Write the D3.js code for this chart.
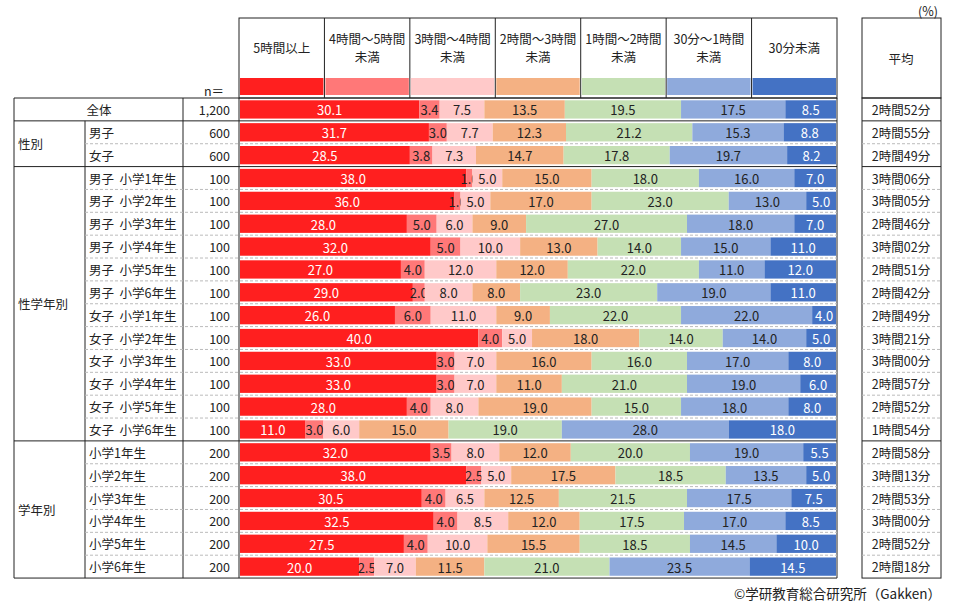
<!DOCTYPE html>
<html><head><meta charset="utf-8">
<script src="https://cdn.jsdelivr.net/npm/d3@7"></script>
<style>body{margin:0;background:#fff;font-family:"Noto Sans CJK JP","Noto Sans",sans-serif;}</style>
</head><body><svg id="c" width="967" height="611"></svg>
<script>
var categories = ['5時間以上','4時間～5時間|未満','3時間～4時間|未満','2時間～3時間|未満','1時間～2時間|未満','30分～1時間|未満','30分未満'];
var colors = ['#FF1F1F','#FF7878','#FFC9C9','#F4B183','#C5E0B4','#8FAADC','#4472C4'];
var groups = [['全体',1],['性別',2],['性学年別',12],['学年別',6]];
var rowLabels = ['全体','男子','女子','男子  小学1年生','男子  小学2年生','男子  小学3年生','男子  小学4年生','男子  小学5年生','男子  小学6年生','女子  小学1年生','女子  小学2年生','女子  小学3年生','女子  小学4年生','女子  小学5年生','女子  小学6年生','小学1年生','小学2年生','小学3年生','小学4年生','小学5年生','小学6年生'];
var nValues = ['1,200','600','600','100','100','100','100','100','100','100','100','100','100','100','100','200','200','200','200','200','200'];
var values = [
 [30.1,3.4,7.5,13.5,19.5,17.5,8.5],
 [31.7,3.0,7.7,12.3,21.2,15.3,8.8],
 [28.5,3.8,7.3,14.7,17.8,19.7,8.2],
 [38.0,1.0,5.0,15.0,18.0,16.0,7.0],
 [36.0,1.0,5.0,17.0,23.0,13.0,5.0],
 [28.0,5.0,6.0,9.0,27.0,18.0,7.0],
 [32.0,5.0,10.0,13.0,14.0,15.0,11.0],
 [27.0,4.0,12.0,12.0,22.0,11.0,12.0],
 [29.0,2.0,8.0,8.0,23.0,19.0,11.0],
 [26.0,6.0,11.0,9.0,22.0,22.0,4.0],
 [40.0,4.0,5.0,18.0,14.0,14.0,5.0],
 [33.0,3.0,7.0,16.0,16.0,17.0,8.0],
 [33.0,3.0,7.0,11.0,21.0,19.0,6.0],
 [28.0,4.0,8.0,19.0,15.0,18.0,8.0],
 [11.0,3.0,6.0,15.0,19.0,28.0,18.0],
 [32.0,3.5,8.0,12.0,20.0,19.0,5.5],
 [38.0,2.5,5.0,17.5,18.5,13.5,5.0],
 [30.5,4.0,6.5,12.5,21.5,17.5,7.5],
 [32.5,4.0,8.5,12.0,17.5,17.0,8.5],
 [27.5,4.0,10.0,15.5,18.5,14.5,10.0],
 [20.0,2.5,7.0,11.5,21.0,23.5,14.5]];
var averages = ['2時間52分','2時間55分','2時間49分','3時間06分','3時間05分','2時間46分','3時間02分','2時間51分','2時間42分','2時間49分','3時間21分','3時間00分','2時間57分','2時間52分','1時間54分','2時間58分','3時間13分','2時間53分','3時間00分','2時間52分','2時間18分'];

var svg = d3.select('#c');
var x0=239, x1=837, topY=98, rowH=22.86;
var x = d3.scaleLinear().domain([0,100]).range([x0+1,x1-1]);
var y = d3.scaleBand().domain(d3.range(rowLabels.length)).range([topY, topY+rowH*rowLabels.length]).paddingInner(0.2).paddingOuter(0.1);
var ln = '#222';
function line(a,b,c,d,dash){svg.append('line').attr('x1',a).attr('y1',b).attr('x2',c).attr('y2',d).attr('stroke',dash?'#bbb':ln).attr('stroke-width',1).attr('stroke-dasharray',dash?'3,2':null);}
function txt(s,xx,yy,anchor,fill){return svg.append('text').attr('x',xx).attr('y',yy).attr('text-anchor',anchor||'middle').attr('dominant-baseline','central').attr('font-size',12.5).attr('fill',fill||'#222').text(s);}

// header
var cw=(x1-x0)/7;
svg.append('rect').attr('x',x0).attr('y',18).attr('width',x1-x0).attr('height',80).attr('fill','none').attr('stroke',ln);
categories.forEach(function(c,i){
  var cx=x0+cw*i;
  if(i>0) line(cx,18,cx,98);
  var parts=c.split('|');
  parts.forEach(function(p,j){txt(p,cx+cw/2,parts.length==1?47:38+j*18);});
  svg.append('rect').attr('x',cx+1).attr('y',78).attr('width',cw-2).attr('height',17).attr('fill',colors[i]);
});
txt('n＝',214,90);
txt('(%)',928,10);
svg.append('rect').attr('x',862).attr('y',18).attr('width',79).attr('height',80).attr('fill','none').attr('stroke',ln);
txt('平均',901,58);

// table structure
var bottom=topY+rowH*rowLabels.length;
line(14,topY,x1,topY); line(14,bottom,x1,bottom);
line(14,topY,14,bottom); line(183,topY,183,bottom); line(239,topY,239,bottom); line(x1,topY,x1,bottom);
svg.append('rect').attr('x',862).attr('y',topY).attr('width',79).attr('height',bottom-topY).attr('fill','none').attr('stroke',ln);
var r=0;
groups.forEach(function(g,gi){
  var yT=topY+r*rowH, yB=topY+(r+g[1])*rowH;
  if(gi>0){line(14,yT,x1,yT); line(862,yT,941,yT);}
  if(g[1]==1){txt(g[0],99,(yT+yB)/2);}
  else{
    line(85,yT,85,yB);
    txt(g[0],18,(yT+yB)/2,'start');
    for(var k=1;k<g[1];k++){var yy=yT+k*rowH; line(85,yy,x1,yy,true); line(862,yy,941,yy,true);}
  }
  r+=g[1];
});
rowLabels.forEach(function(l,i){
  var cy=topY+(i+0.5)*rowH;
  if(i>0) txt(l,89,cy,'start').attr('xml:space','preserve');
  txt(nValues[i],230,cy,'end');
  txt(averages[i],901,cy);
});

// bars
values.forEach(function(v,i){
  var acc=0;
  v.forEach(function(d,j){
    var a=x(acc), b=x(acc+d);
    svg.append('rect').attr('x',a).attr('y',y(i)).attr('width',b-a).attr('height',y.bandwidth()).attr('fill',colors[j]);
    txt(d.toFixed(1),(a+b)/2,y(i)+y.bandwidth()/2+0.5,'middle',(j==0||j==6)?'#fff':'#222').attr('font-size',13);
    acc+=d;
  });
});
txt('©学研教育総合研究所（Gakken）',941,593,'end').attr('font-size',13.5);
</script></body></html>
